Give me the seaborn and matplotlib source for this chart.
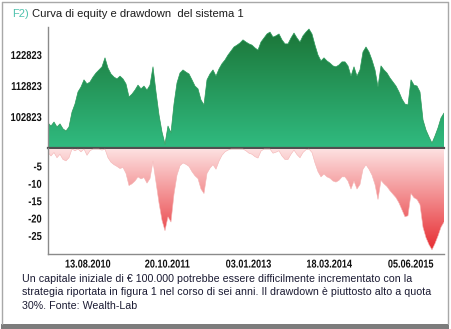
import numpy as np
import pandas as pd
import matplotlib
matplotlib.use("Agg")
import matplotlib.pyplot as plt
import matplotlib.dates as mdates
from matplotlib.colors import LinearSegmentedColormap
from matplotlib.patches import Rectangle
from matplotlib.lines import Line2D
from matplotlib.patheffects import AbstractPathEffect
from matplotlib.transforms import Affine2D
import seaborn as sns

# ---------------- data ----------------
start_date = "2010-01-07"
end_date = "2015-12-02"

equity = [
    100900, 99900, 101200, 99600, 100600, 99000, 98300, 99600, 104400, 107000,
    110900, 112500, 114800, 113500, 114100, 115700, 117000, 118000, 119000, 121900,
    118600, 116700, 115700, 115100, 116000, 115100, 113500, 109300, 110200, 111500,
    113100, 111900, 112800, 111500, 113100, 119000, 110900, 103500, 98000, 94100,
    99900, 97700, 107000, 113800, 117000, 118000, 117300, 116700, 114800, 112800,
    111900, 108300, 106700, 114800, 116700, 118000, 116000, 118300, 120000, 121200,
    122800, 124100, 125400, 126000, 126700, 127700, 127000, 126400, 126000, 125100,
    124400, 127000, 128300, 129600, 130200, 128600, 129000, 129600, 127700, 126400,
    126400, 128300, 129900, 128300, 127000, 129000, 130200, 131200, 129600, 126000,
    122800, 120900, 121900, 120900, 120200, 119300, 119000, 119600, 120600, 120600,
    119300, 116000, 119000, 116000, 118000, 123800, 125400, 123800, 121200, 118000,
    112500, 119300, 118000, 117000, 115400, 114100, 112800, 110900, 108600, 107000,
    106700, 114800, 113100, 112800, 110900, 101900, 98600, 96400, 94400, 96700,
    99300, 102500, 104100,
]

drawdown = [
    -1.0, -2.0, -1.0, -2.5, -1.5, -3.0, -3.4, -2.5, 0.0, -0.5,
    0.0, -0.8, 0.0, -1.8, -0.5, 0.0, 0.0, 0.0, -0.3, 0.0,
    -2.5, -3.8, -4.5, -5.0, -5.6, -5.3, -7.0, -10.5, -10.0, -9.2,
    -8.0, -8.6, -8.2, -9.8, -8.5, -3.5, -9.5, -15.5, -20.5, -23.5,
    -19.5, -21.0, -13.0, -7.5, -4.8, -4.0, -4.4, -5.0, -6.5, -7.7,
    -8.5, -11.5, -12.8, -7.0, -5.5, -4.5, -5.8, -3.5, -1.8, -0.8,
    -0.3, 0.0, 0.0, 0.0, 0.0, 0.0, -0.5, -1.2, -1.5, -2.2,
    -2.6, -0.6, 0.0, 0.0, 0.0, -1.2, -0.9, -0.5, -2.0, -3.0,
    -3.0, -1.5, -0.3, -1.6, -2.5, -1.0, -0.2, 0.0, -1.0, -4.0,
    -6.5, -8.0, -7.2, -8.0, -8.4, -9.2, -9.5, -9.0, -8.0, -8.0,
    -9.2, -11.5, -9.2, -11.5, -10.2, -5.8, -4.5, -5.8, -7.5, -10.2,
    -14.5, -9.0, -10.0, -10.8, -12.0, -13.0, -14.0, -15.5, -17.5, -19.5,
    -19.2, -12.8, -14.0, -14.5, -16.0, -22.5, -25.5, -27.5, -29.0, -27.2,
    -25.0, -22.5, -21.0,
]

tick_dates = ["2010-08-13", "2011-10-20", "2013-01-03", "2014-03-18", "2015-06-05"]
tick_labels = ["13.08.2010", "20.10.2011", "03.01.2013", "18.03.2014", "05.06.2015"]

equity_ticks = [92823, 102823, 112823, 122823]
equity_tick_labels = ["", "102823", "112823", "122823"]
dd_ticks = [0, -5, -10, -15, -20, -25]
dd_tick_labels = ["", "-5", "-10", "-15", "-20", "-25"]

title_tag = "F2)"
title_text = "Curva di equity e drawdown  del sistema 1"
caption_lines = [
    "Un capitale iniziale di € 100.000 potrebbe essere difficilmente incrementato con la",
    "strategia riportata in figura 1 nel corso di sei anni. Il drawdown è piuttosto alto a quota",
    "30%. Fonte: Wealth-Lab",
]

eq_dates = pd.date_range(start_date, end_date, periods=len(equity))
dd_dates = pd.date_range(start_date, end_date, periods=len(drawdown))
df_eq = pd.DataFrame({"date": eq_dates, "equity": equity})
df_dd = pd.DataFrame({"date": dd_dates, "drawdown": drawdown})


class SqueezeX(AbstractPathEffect):
    """Narrow the glyphs horizontally (condensed look) around an anchor."""

    def __init__(self, sx, anchor="center"):
        super().__init__()
        self.sx = sx
        self.anchor = anchor

    def draw_path(self, renderer, gc, tpath, affine, rgbFace=None):
        ext = tpath.get_extents(affine)
        if self.anchor == "right":
            cx = ext.x1
        elif self.anchor == "left":
            cx = ext.x0
        else:
            cx = 0.5 * (ext.x0 + ext.x1)
        t = affine + Affine2D().translate(-cx, 0).scale(self.sx, 1).translate(cx, 0)
        renderer.draw_path(gc, tpath, t, rgbFace)


# ---------------- style ----------------
sns.set_style("white")
plt.rcParams["font.family"] = ["Liberation Sans", "DejaVu Sans"]

W, H = 452, 329
fig = plt.figure(figsize=(W / 100, H / 100), dpi=100)
fig.patch.set_facecolor("white")

left = 48 / W
width = (444 - 48) / W
ax1 = fig.add_axes([left, 1 - 148 / H, width, (148 - 27) / H])
ax2 = fig.add_axes([left, 1 - 254 / H, width, (254 - 148) / H])

eq_ylim = (92823, 131850)
dd_ylim = (-30.2, 0.3)
xlim = (mdates.date2num(eq_dates[0]), mdates.date2num(eq_dates[-1]))


def gradient_area(ax, dates, values, base, c_bottom, c_top, ylim):
    poly = ax.fill_between(dates, values, base, facecolor="none",
                           edgecolor="none", zorder=1)
    cmap = LinearSegmentedColormap.from_list("g", [c_bottom, c_top])
    grad = np.linspace(0, 1, 256).reshape(-1, 1)
    xn = mdates.date2num(dates)
    im = ax.imshow(grad, aspect="auto", cmap=cmap, origin="lower",
                   extent=[xn[0], xn[-1], ylim[0], ylim[1]], zorder=1,
                   interpolation="bilinear")
    im.set_clip_path(poly.get_paths()[0], transform=ax.transData)


gradient_area(ax1, eq_dates, equity, eq_ylim[0], "#30bb80", "#1b7436", eq_ylim)
sns.lineplot(data=df_eq, x="date", y="equity", ax=ax1, color="#2a9a5a",
             linewidth=0.5, zorder=2)
gradient_area(ax2, dd_dates, drawdown, 0, "#e6262b", "#fde2e2", dd_ylim)
sns.lineplot(data=df_dd, x="date", y="drawdown", ax=ax2, color="#f4b4b4",
             linewidth=0.4, zorder=2)

for ax in (ax1, ax2):
    ax.set_xlim(*xlim)
    ax.set_xlabel("")
    ax.set_ylabel("")
    ax.set_facecolor("none")
    ax.spines["top"].set_visible(False)
    ax.spines["right"].set_visible(False)
    ax.spines["left"].set_color("#8a8a8a")
    ax.spines["left"].set_linewidth(1.0)

ax1.set_ylim(*eq_ylim)
ax2.set_ylim(*dd_ylim)

ax1.set_yticks(equity_ticks)
ax1.set_yticklabels(equity_tick_labels)
ax2.set_yticks(dd_ticks)
ax2.set_yticklabels(dd_tick_labels)
ax1.set_xticks([])
ax1.spines["bottom"].set_color("#505050")
ax1.spines["bottom"].set_linewidth(1.6)
ax1.spines["bottom"].set_zorder(5)
ax2.spines["bottom"].set_color("#8a8a8a")
ax2.spines["bottom"].set_linewidth(1.0)

ax2.set_xticks(mdates.date2num(pd.to_datetime(tick_dates)))
ax2.set_xticklabels(tick_labels)

for ax in (ax1, ax2):
    ax.tick_params(axis="y", direction="out", length=3.5, width=0.8,
                   color="#777777", pad=0.8, labelsize=8.2, labelcolor="#111111")
    for lab in ax.get_yticklabels():
        lab.set_fontweight("bold")
        lab.set_path_effects([SqueezeX(0.82, "right")])
ax2.tick_params(axis="x", direction="inout", length=5, width=0.8,
                color="#777777", pad=1.5, labelsize=8.2, labelcolor="#111111")
for lab in ax2.get_xticklabels():
    lab.set_fontweight("bold")
    lab.set_path_effects([SqueezeX(0.8, "center")])

# ---------------- title and caption ----------------
t1 = fig.text(12 / W, 1 - 14 / H, title_tag, color="#4fc2ae", fontsize=8.0,
              va="center", ha="left")
ax1.annotate(title_text, xy=(1, 0.5), xycoords=t1, xytext=(2.5, 0),
             textcoords="offset points", va="center", ha="left",
             fontsize=8.1, color="#1c1c1c")

for i, line in enumerate(caption_lines):
    fig.text(22 / W, 1 - (279 + 13.3 * i) / H, line, fontsize=7.7,
             color="#1b1b33", va="center", ha="left")

# ---------------- frame ----------------
frame_c = "#a8a8a8"
fig.add_artist(Line2D([2 / W, 448.5 / W], [1 - 1.5 / H, 1 - 1.5 / H],
                      transform=fig.transFigure, color=frame_c, lw=1))
fig.add_artist(Line2D([2 / W, 2 / W], [1 - 1.5 / H, 5 / H],
                      transform=fig.transFigure, color=frame_c, lw=1))
fig.add_artist(Line2D([448.5 / W, 448.5 / W], [1 - 1.5 / H, 5 / H],
                      transform=fig.transFigure, color=frame_c, lw=1))
fig.add_artist(Rectangle((1.5 / W, 0.5 / H), 447.5 / W, 4.5 / H,
                         transform=fig.transFigure, facecolor="#7c7c7c",
                         edgecolor="none"))

fig.savefig("out.png", dpi=100)
